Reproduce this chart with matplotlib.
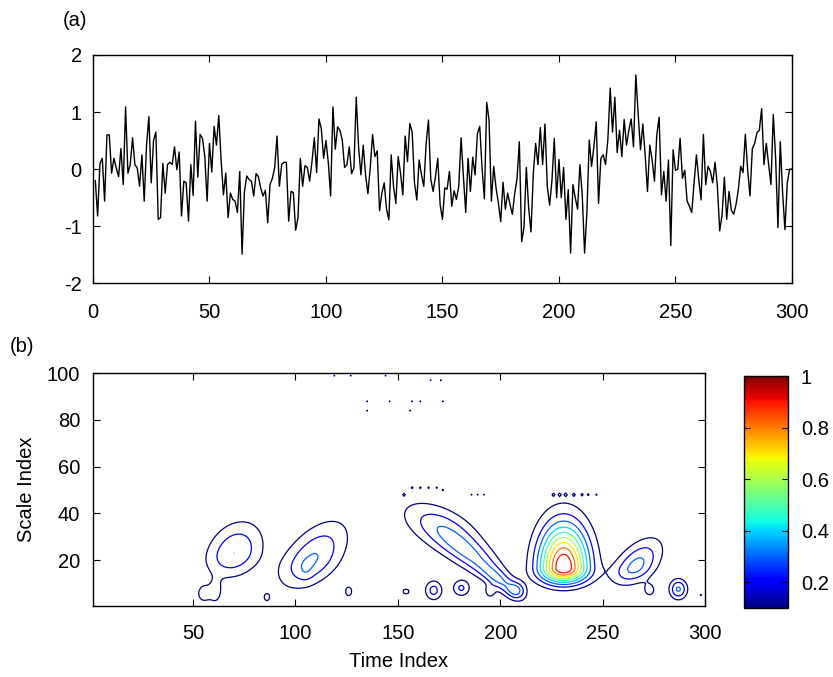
import numpy as np
import matplotlib.pyplot as plt
from matplotlib.colors import Normalize
from matplotlib.cm import ScalarMappable

plt.rcParams['font.family'] = ['Liberation Sans', 'DejaVu Sans']
plt.rcParams['font.size'] = 14.5
plt.rcParams['axes.unicode_minus'] = False

# (a) serie temporal, indices 1..300
serie = [
    -0.2, -0.82, 0.1, 0.19, -0.56, 0.6, 0.6, -0.07, 0.19, 0.02,
    -0.13, 0.36, -0.27, 1.09, -0.07, 0.08, 0.55, 0.08, 0.02, -0.3,
    0.25, -0.56, 0.42, 0.92, -0.24, 0.5, 0.65, -0.88, -0.85, 0.1,
    -0.42, 0.08, 0.12, 0.08, 0.39, -0.01, 0.3, -0.82, -0.21, -0.24,
    -0.91, 0.08, -0.46, 0.84, -0.14, 0.61, 0.54, 0.22, -0.56, 0.45,
    -0.05, 0.75, 0.42, 0.94, 0.16, -0.45, -0.07, -0.85, -0.42, -0.53,
    -0.56, -0.76, -0.04, -1.49, -0.4, -0.12, -0.18, -0.21, -0.47, -0.08,
    -0.13, -0.33, -0.47, -0.37, -0.94, -0.27, -0.16, 0.03, 0.58, -0.3,
    0.08, 0.12, 0.12, -0.91, -0.39, -0.41, -1.07, -0.85, 0.19, -0.3,
    0.06, 0.03, -0.21, 0.13, 0.55, -0.06, 0.88, 0.71, 0.19, 0.5,
    0.12, -0.47, 1.09, 0.35, 0.74, 0.68, 0.51, 0.03, 0.08, 0.39,
    -0.08, 0.02, 1.26, 0.39, -0.1, 0.42, -0.1, -0.43, 0.02, 0.61,
    0.22, 0.32, -0.73, -0.42, -0.24, -0.7, -0.89, 0.25, -0.3, -0.6,
    0.22, -0.07, -0.45, 0.58, 0.13, 0.8, 0.65, -0.24, -0.54, 0.16,
    -0.1, -0.3, 0.45, 0.86, -0.18, -0.39, -0.13, 0.19, -0.62, -0.88,
    -0.33, -0.35, -0.04, -0.65, -0.38, -0.53, -0.3, 0.55, -0.13, -0.76,
    0.19, -0.39, 0.21, -0.1, 0.62, 0.75, 0.02, -0.52, 1.17, 0.86,
    -0.56, 0.05, -0.33, -0.59, -0.92, -0.23, -0.7, -0.42, -0.62, -0.79,
    -0.43, -0.17, 0.48, -1.27, -1.02, 0.03, -0.68, -1.1, -0.07, 0.45,
    0.08, 0.73, 0.08, 0.79, -0.3, -0.63, -0.2, 0.54, -0.5, 0.17,
    -0.5, 0.03, -0.88, -0.36, -1.47, -0.27, -0.5, -0.7, 0.08, -0.45,
    -1.47, -0.76, 0.51, 0.05, 0.39, 0.83, -0.6, 0.19, 0.25, 0.08,
    0.52, 1.42, 0.65, 1.26, 0.29, 0.68, 0.22, 0.87, 0.42, 0.68,
    0.88, 0.39, 1.65, 0.97, 0.34, 0.79, 0.25, -0.39, 0.42, 0.16,
    -0.21, 0.6, 0.91, -0.45, -0.04, -0.56, 0.16, -1.34, 0.34, -0.02,
    0.0, 0.54, -0.16, -0.02, -0.56, -0.65, -0.76, -0.24, 0.25, -0.18,
    -0.54, 0.61, -0.27, 0.05, -0.04, -0.24, 0.12, -0.3, -1.08, -0.81,
    -0.14, -0.88, -0.39, -0.72, -0.79, -0.62, -0.36, 0.05, -0.06, 0.61,
    -0.02, -0.47, 0.36, 0.45, 0.64, 0.68, 1.06, 0.08, 0.45, 0.08,
    -0.27, 0.96, 0.19, -1.02, 0.48, -0.42, -1.06, -0.24, 0.0, 0.0,
]
tiempo = np.arange(1, len(serie) + 1)

# (b) manchas del escalograma
mancha_t = [231, 171, 186, 200, 208, 70, 61, 108, 105, 266, 273, 287,
            55, 86, 126, 154, 167.5, 181, 195, 298]
mancha_s = [16.5, 34, 22, 11, 7, 23, 6, 20, 15, 17, 7, 7.5,
            5.5, 4, 6.5, 6.5, 7, 8, 6.5, 5]
mancha_wt = [8.4, 11, 7.5, 4.5, 3, 9, 2.5, 9.5, 2.5, 7, 2.5, 3,
             2.5, 1.5, 2, 2.5, 3, 3, 1.8, 0.6]
mancha_ws_arriba = [13, 7.5, 7, 5, 2.5, 9, 4, 11, 3, 8, 2.5, 3,
                    3, 1.8, 2.5, 1.8, 3, 2.5, 2, 0.6]
mancha_ws_abajo = [4.5, 8, 7, 5, 2.5, 7, 4, 8, 3, 5, 2.5, 3,
                   3, 1.8, 2.5, 1.8, 3, 2.5, 2, 0.6]
mancha_amp = [1.0, 0.25, 0.25, 0.25, 0.22, 0.3, 0.13, 0.31, 0.05, 0.34, 0.13,
              0.32, 0.14, 0.12, 0.13, 0.12, 0.24, 0.22, 0.15, 0.12]
mancha_incl = [0, -0.9, -1.1, -1.1, 0, 0.3, 0, 0.6, 0, 0.6, 0, 0,
               0, 0, 0, 0, 0, 0, 0, 0]

# puntitos sueltos (nivel apenas sobre 0.1)
punto_t = [119, 127, 144, 166, 171, 135, 146, 157, 161, 172, 135, 156,
           153, 157, 161, 165, 169, 172, 186, 189, 192,
           226, 229, 232, 236, 240, 243, 247]
punto_s = [99, 99, 99, 97, 97, 88, 88, 88, 88, 88, 84, 84,
           48, 51, 51, 51, 51, 50, 48, 48, 48,
           48, 48, 48, 48, 48, 48, 48]

niveles = [0.1, 0.2, 0.3, 0.4, 0.5, 0.6, 0.7, 0.8, 0.9]


def armarCampo():
    T, S = np.meshgrid(np.arange(1, 301), np.arange(1, 101))
    Z = np.zeros(T.shape)
    for i in range(len(mancha_t)):
        ds = S - mancha_s[i]
        tc = mancha_t[i] + mancha_incl[i] * ds
        ws = np.where(ds > 0, mancha_ws_arriba[i], mancha_ws_abajo[i])
        Z += mancha_amp[i] * np.exp(-0.5 * ((T - tc) / mancha_wt[i]) ** 2
                                    - 0.5 * (ds / ws) ** 2)
    for pt, ps in zip(punto_t, punto_s):
        Z += 0.115 * np.exp(-((T - pt) ** 2 + (S - ps) ** 2) / 0.72)
    return T, S, Z


def ajustarEjes(ax, padx, pady):
    ax.tick_params(direction='in', top=True, right=True, length=5, width=0.8)
    ax.tick_params(axis='x', pad=padx)
    ax.tick_params(axis='y', pad=pady)
    for sp in ax.spines.values():
        sp.set_linewidth(1.0)


fig = plt.figure(figsize=(8.33, 6.77), dpi=100)

# panel (a)
ax1 = fig.add_axes([0.1116, 0.5815, 0.8391, 0.3373])
ax1.plot(tiempo, serie, color='black', linewidth=1.0)
ax1.set_xlim(0, 300)
ax1.set_ylim(-2, 2)
ax1.set_xticks([0, 50, 100, 150, 200, 250, 300])
ax1.set_yticks([-2, -1, 0, 1, 2])
ajustarEjes(ax1, 14, 8)
fig.text(0.090, 0.9694, '(a)', ha='center', va='center')

# panel (b)
T, S, Z = armarCampo()
norma = Normalize(vmin=0.1, vmax=1.0)
ax2 = fig.add_axes([0.1113, 0.1049, 0.735, 0.3437])
ax2.contour(T, S, Z, levels=niveles, cmap='jet', norm=norma, linewidths=0.9)
ax2.set_xlim(1, 300)
ax2.set_ylim(0.3, 100)
ax2.set_xticks([50, 100, 150, 200, 250, 300])
ax2.set_yticks([20, 40, 60, 80, 100])
ax2.set_xlabel('Time Index')
ax2.set_ylabel('Scale Index')
ax2.xaxis.set_label_coords(0.5, -0.198)
ax2.yaxis.set_label_coords(-0.093, 0.5)
ajustarEjes(ax2, 13, 9)
fig.text(0.026, 0.4879, '(b)', ha='center', va='center')

cax = fig.add_axes([0.8932, 0.1015, 0.0532, 0.3431])
cb = fig.colorbar(ScalarMappable(norm=norma, cmap='jet'), cax=cax,
                  ticks=[0.2, 0.4, 0.6, 0.8, 1.0])
cb.set_ticklabels(['0.2', '0.4', '0.6', '0.8', '1'])
cb.outline.set_linewidth(1.0)
cax.tick_params(direction='in', left=True, right=True, length=4, width=0.8, pad=9)

plt.savefig('out.png', dpi=100)
